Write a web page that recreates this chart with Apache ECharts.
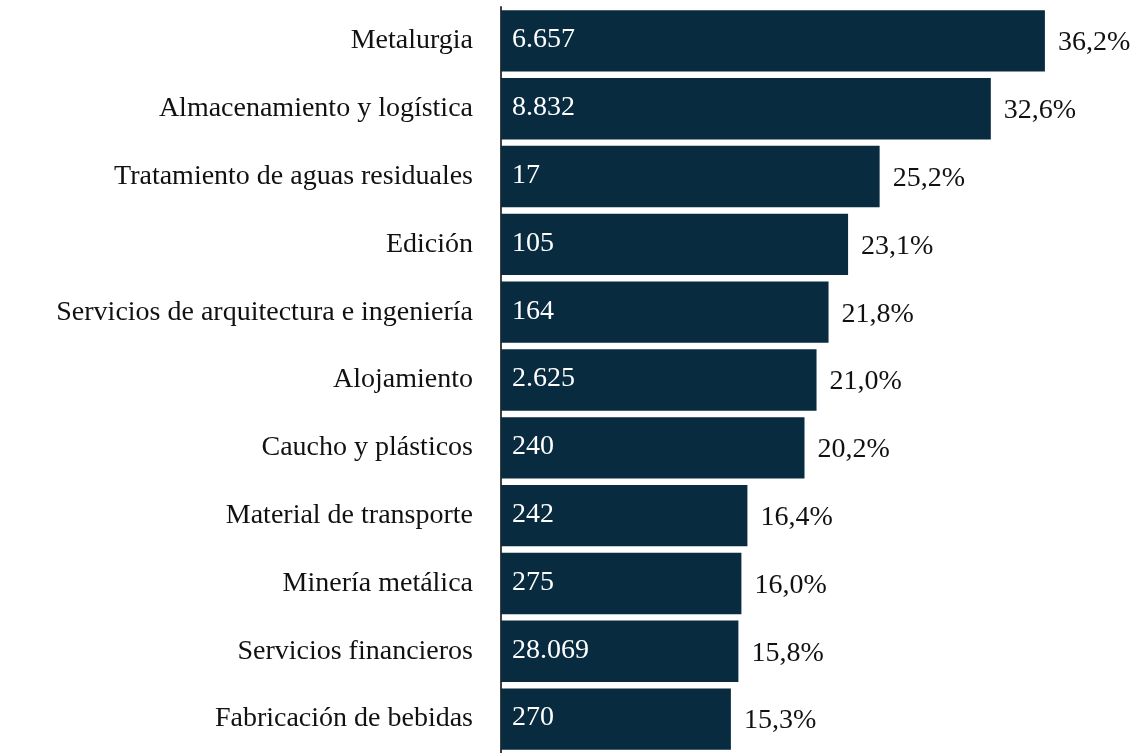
<!DOCTYPE html>
<html>
<head>
<meta charset="utf-8">
<script src="https://cdn.jsdelivr.net/npm/echarts@6/dist/echarts.min.js"></script>
<style>
  html, body { margin: 0; padding: 0; background: #fff; }
  #chart { width: 1141px; height: 753px; }
</style>
</head>
<body>
<div id="chart"></div>
<script>
// sectors, top to bottom
const sectors = [
  'Metalurgia',
  'Almacenamiento y logística',
  'Tratamiento de aguas residuales',
  'Edición',
  'Servicios de arquitectura e ingeniería',
  'Alojamiento',
  'Caucho y plásticos',
  'Material de transporte',
  'Minería metálica',
  'Servicios financieros',
  'Fabricación de bebidas'
];
// share (%) -> bar length
const shares = [36.2, 32.6, 25.2, 23.1, 21.8, 21.0, 20.2, 16.4, 16.0, 15.8, 15.3];
// count printed inside each bar
const counts = ['6.657', '8.832', '17', '105', '164', '2.625', '240', '242', '275', '28.069', '270'];

const FONT = '"Liberation Serif", "Times New Roman", serif';
const BAR = '#082b40';

const chart = echarts.init(document.getElementById('chart'));

chart.setOption({
  animation: false,
  backgroundColor: '#ffffff',
  grid: { left: 501, top: 7, width: 601, height: 755, containLabel: false },
  xAxis: {
    type: 'value', min: 0, max: 40,
    show: false
  },
  yAxis: {
    type: 'category',
    inverse: true,
    data: sectors,
    axisLine: { show: true, lineStyle: { color: '#404040', width: 2 } },
    axisTick: { show: false },
    axisLabel: { margin: 28, color: '#111', fontFamily: FONT, fontSize: 28 }
  },
  series: [
    {
      type: 'bar',
      data: shares,
      barCategoryGap: '9.5%',
      itemStyle: { color: BAR },
      label: {
        show: true,
        position: 'right',
        distance: 13,
        offset: [0, 2],
        color: '#111',
        fontFamily: FONT,
        fontSize: 28,
        formatter: p => p.value.toFixed(1).replace('.', ',') + '%'
      }
    },
    {
      // inside labels, drawn on a transparent overlay of the same bars
      type: 'bar',
      data: shares,
      barGap: '-100%',
      barCategoryGap: '9.5%',
      itemStyle: { color: 'transparent' },
      label: {
        show: true,
        position: 'insideLeft',
        distance: 11,
        offset: [0, -1],
        color: '#ffffff',
        fontFamily: FONT,
        fontSize: 28,
        formatter: p => counts[p.dataIndex]
      },
      silent: true
    }
  ]
});
</script>
</body>
</html>
